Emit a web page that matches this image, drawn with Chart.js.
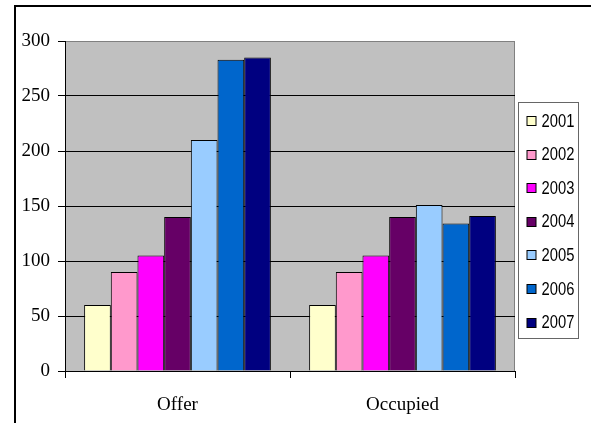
<!DOCTYPE html>
<html>
<head>
<meta charset="utf-8">
<title>Offer and Occupied, 2001–2007</title>
<script src="https://cdn.jsdelivr.net/npm/chart.js@4"></script>
<style>
  html, body { margin: 0; padding: 0; background: #fff; }
  #wrap { width: 591px; height: 423px; }
</style>
</head>
<body>
<div id="wrap"><canvas id="c" width="591" height="423"></canvas></div>
<script>
// Categories and yearly series
const categories = ['Offer', 'Occupied'];
const years = ['2001', '2002', '2003', '2004', '2005', '2006', '2007'];
const values2001 = [60, 60];
const values2002 = [90, 90];
const values2003 = [105, 105];
const values2004 = [140, 140];
const values2005 = [210, 151];
const values2006 = [283, 134];
const values2007 = [285, 141];
const yTicks = [0, 50, 100, 150, 200, 250, 300];

const seriesValues = [values2001, values2002, values2003, values2004, values2005, values2006, values2007];
const seriesColors = ['#FFFFCC', '#FF99CC', '#FF00FF', '#660066', '#99CCFF', '#0066CC', '#000080'];

const serif = '"Liberation Serif", "Times New Roman", serif';
const sans = '"Liberation Sans", Arial, sans-serif';

// Grey plot background, outer frame and boxed legend
const decor = {
  id: 'decor',
  beforeDraw(chart) {
    const { ctx, chartArea: a } = chart;
    ctx.save();
    ctx.fillStyle = '#fff';
    ctx.fillRect(0, 0, chart.width, chart.height);
    ctx.fillStyle = '#C0C0C0';
    ctx.fillRect(a.left, a.top, a.right - a.left, a.bottom - a.top);
    ctx.strokeStyle = '#808080';
    ctx.lineWidth = 1;
    ctx.beginPath();
    ctx.moveTo(a.left, a.top + 0.5);
    ctx.lineTo(a.right - 0.5, a.top + 0.5);
    ctx.lineTo(a.right - 0.5, a.bottom);
    ctx.stroke();
    // outer frame
    ctx.strokeStyle = '#000';
    ctx.lineWidth = 2;
    ctx.beginPath();
    ctx.moveTo(15, chart.height);
    ctx.lineTo(15, 6);
    ctx.lineTo(chart.width, 6);
    ctx.stroke();
    ctx.restore();
  },
  afterDraw(chart) {
    const { ctx, chartArea: a } = chart;
    const x0 = a.right + 3.5, y0 = 102.5, w = 60, h = 236;
    ctx.save();
    ctx.fillStyle = '#fff';
    ctx.fillRect(x0, y0, w, h);
    ctx.strokeStyle = '#666';
    ctx.lineWidth = 1;
    ctx.strokeRect(x0, y0, w, h);
    chart.data.datasets.forEach((ds, i) => {
      const cy = 120 + i * 33.6;
      const by = Math.round(cy - 4) + 0.5;
      ctx.fillStyle = ds.backgroundColor;
      ctx.fillRect(x0 + 8.5, by, 9, 9);
      ctx.strokeStyle = '#000';
      ctx.strokeRect(x0 + 8.5, by, 9, 9);
      // narrow-set year label
      ctx.save();
      ctx.translate(x0 + 23, cy + 6.5);
      ctx.scale(0.82, 1);
      ctx.font = '18px ' + sans;
      ctx.textBaseline = 'alphabetic';
      ctx.textAlign = 'left';
      ctx.fillStyle = '#000';
      ctx.fillText(ds.label, 0, 0);
      ctx.restore();
    });
    ctx.restore();
  }
};

const datasets = years.map((y, i) => ({
  label: y,
  data: seriesValues[i],
  backgroundColor: seriesColors[i],
  borderColor: '#000',
  borderWidth: 1,
  categoryPercentage: 0.83,
  barPercentage: 1.0
}));

new Chart(document.getElementById('c'), {
  type: 'bar',
  data: { labels: categories, datasets },
  plugins: [decor],
  options: {
    responsive: false,
    animation: false,
    layout: { padding: { left: 0, top: 41, right: 76, bottom: 0 } },
    plugins: { legend: { display: false }, tooltip: { enabled: false } },
    scales: {
      x: {
        afterFit(s) { s.height = 52; },
        grid: { offset: true, drawOnChartArea: false, color: '#000', tickLength: 7 },
        border: { color: '#000', width: 1 },
        ticks: { color: '#000', font: { family: serif, size: 19 }, padding: 16 }
      },
      y: {
        min: 0,
        max: 300,
        afterFit(s) { s.width = 65; },
        afterBuildTicks(s) { s.ticks = yTicks.map(v => ({ value: v })); },
        grid: {
          color: ctx => (ctx.tick && ctx.tick.value === 300 ? '#808080' : '#000'),
          tickColor: '#000',
          tickLength: 7
        },
        border: { color: '#000', width: 1 },
        ticks: { color: '#000', font: { family: serif, size: 19 }, padding: 8 }
      }
    }
  }
});
</script>
</body>
</html>
